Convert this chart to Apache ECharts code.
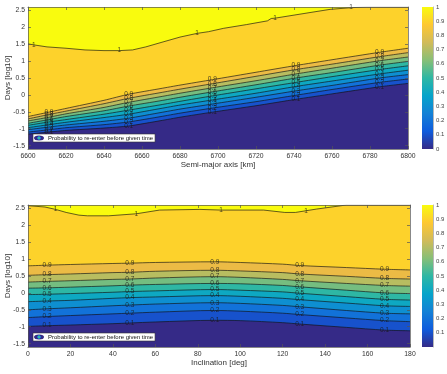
<!DOCTYPE html>
<html>
<head>
<meta charset="utf-8">
<script src="https://cdn.jsdelivr.net/npm/echarts@6/dist/echarts.min.js"></script>
<style>
html, body { margin: 0; padding: 0; background: #fff; }
#main { width: 447px; height: 374px; }
</style>
</head>
<body>
<div id="main"></div>
<script>
// top panel: contours of probability vs semi-major axis
var smaX = [6600, 6611, 6620, 6640, 6653, 6670, 6680, 6697, 6720, 6741, 6760, 6785, 6800];
var smaP10 = [-1.16, -1.10, -1.05, -0.98, -0.92, -0.76, -0.66, -0.51, -0.32, -0.13, 0.03, 0.24, 0.34];
var smaP20 = [-1.10, -1.03, -0.97, -0.88, -0.80, -0.64, -0.54, -0.39, -0.20, -0.01, 0.16, 0.37, 0.47];
var smaP30 = [-1.03, -0.95, -0.89, -0.78, -0.69, -0.52, -0.42, -0.27, -0.07, 0.12, 0.28, 0.50, 0.60];
var smaP40 = [-0.97, -0.88, -0.81, -0.67, -0.57, -0.40, -0.30, -0.15, 0.05, 0.25, 0.41, 0.62, 0.73];
var smaP50 = [-0.90, -0.80, -0.73, -0.57, -0.45, -0.29, -0.19, -0.03, 0.18, 0.37, 0.54, 0.75, 0.86];
var smaP60 = [-0.84, -0.73, -0.64, -0.47, -0.33, -0.17, -0.07, 0.09, 0.30, 0.50, 0.66, 0.88, 0.99];
var smaP70 = [-0.77, -0.66, -0.56, -0.37, -0.22, -0.05, 0.05, 0.21, 0.42, 0.62, 0.79, 1.01, 1.12];
var smaP80 = [-0.71, -0.58, -0.48, -0.26, -0.10, 0.07, 0.17, 0.33, 0.55, 0.75, 0.91, 1.13, 1.25];
var smaP90 = [-0.64, -0.51, -0.40, -0.16, 0.02, 0.19, 0.29, 0.45, 0.67, 0.87, 1.04, 1.26, 1.38];
var smaOneX = [6600, 6603, 6610, 6620, 6630, 6640, 6648, 6655, 6662, 6670, 6680, 6689, 6695, 6703, 6715, 6726, 6728, 6730, 6740, 6750, 6759, 6770, 6778, 6790, 6800];
var smaP100 = [1.51, 1.48, 1.42, 1.38, 1.33, 1.31, 1.31, 1.33, 1.42, 1.55, 1.71, 1.82, 1.87, 1.97, 2.08, 2.19, 2.26, 2.27, 2.36, 2.45, 2.53, 2.58, 2.60, 2.60, 2.60];
var smaLabelIdx = [1, 4, 7, 9, 11];
var smaOneLabelIdx = [1, 6, 11, 17, 21];

// bottom panel: contours vs inclination
var incX = [0, 9, 20, 40, 48, 60, 88, 100, 120, 128, 150, 168, 180];
var incP10 = [-0.99, -0.97, -0.95, -0.91, -0.89, -0.86, -0.81, -0.82, -0.88, -0.92, -1.02, -1.10, -1.12];
var incP20 = [-0.73, -0.70, -0.67, -0.62, -0.60, -0.57, -0.52, -0.54, -0.60, -0.64, -0.74, -0.82, -0.85];
var incP30 = [-0.50, -0.47, -0.44, -0.38, -0.36, -0.33, -0.29, -0.31, -0.37, -0.41, -0.52, -0.60, -0.62];
var incP40 = [-0.26, -0.24, -0.22, -0.16, -0.14, -0.12, -0.08, -0.10, -0.16, -0.20, -0.30, -0.38, -0.40];
var incP50 = [-0.05, -0.04, -0.02, 0.02, 0.04, 0.06, 0.10, 0.08, 0.03, -0.01, -0.11, -0.19, -0.21];
var incP60 = [0.14, 0.15, 0.17, 0.21, 0.23, 0.25, 0.28, 0.27, 0.22, 0.18, 0.08, 0.00, -0.02];
var incP70 = [0.32, 0.34, 0.36, 0.40, 0.41, 0.44, 0.48, 0.46, 0.40, 0.36, 0.28, 0.22, 0.20];
var incP80 = [0.52, 0.54, 0.56, 0.60, 0.61, 0.64, 0.67, 0.65, 0.60, 0.56, 0.49, 0.43, 0.41];
var incP90 = [0.80, 0.82, 0.84, 0.87, 0.88, 0.90, 0.92, 0.90, 0.85, 0.81, 0.75, 0.70, 0.68];
var incOneX = [0, 8, 13, 18, 24, 28, 38, 51, 62, 81, 91, 111, 121, 126, 131, 136, 150, 165, 180];
var incP100 = [2.58, 2.54, 2.47, 2.38, 2.30, 2.28, 2.28, 2.34, 2.45, 2.47, 2.45, 2.45, 2.38, 2.38, 2.43, 2.48, 2.60, 2.60, 2.60];
var incLabelIdx = [1, 4, 6, 9, 11];
var incOneLabelIdx = [2, 7, 10, 14];

var levelNames = ['0.1', '0.2', '0.3', '0.4', '0.5', '0.6', '0.7', '0.8', '0.9', '1'];
var daysTicks = [-1.5, -1, -0.5, 0, 0.5, 1, 1.5, 2, 2.5];
var cbTicksTop = [0, 0.1, 0.2, 0.3, 0.4, 0.5, 0.6, 0.7, 0.8, 0.9, 1];
var cbTicksBottom = [0.1, 0.2, 0.3, 0.4, 0.5, 0.6, 0.7, 0.8, 0.9, 1];

var LEG = 'Probability to re-enter before given time';
var FONT = 'Liberation Sans';
// parula stops and the colour of each band [k/10, (k+1)/10]
var parula = ['#352a87', '#0f5cdd', '#1481d6', '#06a4ca', '#2eb7a4', '#87bf77', '#d1bb59', '#fec832', '#f9fb0e'];
var bandColors = ['#352A87', '#1752CC', '#1272D9', '#0E8FD1', '#0EA8C2', '#2EB7A4', '#75BD80', '#B8BD60', '#ECBB45', '#FDD22B'];
var topColor = '#F9FB0E';

var myecharts = echarts.init(document.getElementById('main'));

function contour(ax, xs, ys, fill, smooth) {
    return {
        type: 'line',
        xAxisIndex: ax, yAxisIndex: ax,
        data: xs.map(function (x, i) { return [x, ys[i]]; }),
        symbol: 'none',
        smooth: smooth,
        silent: true,
        lineStyle: { color: '#111', width: 0.65 },
        areaStyle: { origin: 'start', color: fill, opacity: 1 },
        z: 2
    };
}

function labelSeries(ax, items) {
    return {
        type: 'scatter',
        xAxisIndex: ax, yAxisIndex: ax,
        data: items,
        symbolSize: 1,
        silent: true,
        itemStyle: { color: 'rgba(0,0,0,0)' },
        label: {
            show: true, position: 'inside',
            formatter: function (p) { return p.value[2]; },
            fontSize: 6.5, color: '#1a1a1a', fontFamily: FONT
        },
        z: 5
    };
}

function panel(ax, xs, lines, oneX, oneY, idx, oneIdx, smooth) {
    var s = [contour(ax, oneX, oneY, bandColors[9], false)];
    for (var k = 8; k >= 0; k--) {
        s.push(contour(ax, xs, lines[k], bandColors[k], smooth));
    }
    var labs = [];
    lines.forEach(function (ys, k) {
        idx.forEach(function (i) { labs.push([xs[i], ys[i], levelNames[k]]); });
    });
    oneIdx.forEach(function (i) { labs.push([oneX[i], oneY[i], '1']); });
    s.push(labelSeries(ax, labs));
    return s;
}

var smaLines = [smaP10, smaP20, smaP30, smaP40, smaP50, smaP60, smaP70, smaP80, smaP90];
var incLines = [incP10, incP20, incP30, incP40, incP50, incP60, incP70, incP80, incP90];

var axLine = { show: true, onZero: false, lineStyle: { color: '#555', width: 0.7 } };
var tickIn = { inside: true, length: 3, lineStyle: { color: '#555', width: 0.7 } };
var plain = function (v) { return String(v); };

function xMain(g, min, max, name) {
    return {
        type: 'value', gridIndex: g, min: min, max: max, interval: 20, position: 'bottom',
        name: name, nameLocation: 'middle', nameGap: 12, nameMoveOverlap: false,
        nameTextStyle: { fontSize: 8, color: '#333', fontFamily: FONT },
        axisLine: axLine, axisTick: tickIn,
        axisLabel: { fontSize: 6.8, color: '#333', fontFamily: FONT, margin: 4, formatter: plain },
        splitLine: { show: false }, z: 10
    };
}
function xMirror(g, min, max) {
    return {
        type: 'value', gridIndex: g, min: min, max: max, interval: 20, position: 'top',
        axisLine: axLine, axisTick: tickIn, axisLabel: { show: false }, splitLine: { show: false }, z: 10
    };
}
function yDays(g, pos, showName) {
    return {
        type: 'value', gridIndex: g, min: -1.6, max: 2.6, position: pos,
        name: showName ? 'Days [log10]' : '', nameLocation: 'middle', nameGap: 16, nameMoveOverlap: false,
        nameTextStyle: { fontSize: 8, color: '#333', fontFamily: FONT },
        axisLine: axLine,
        axisTick: { inside: true, length: 3, lineStyle: { color: '#555', width: 0.7 }, customValues: daysTicks },
        axisLabel: showName ? { fontSize: 6.8, color: '#333', fontFamily: FONT, margin: 3, customValues: daysTicks, formatter: plain } : { show: false },
        splitLine: { show: false }, z: 10
    };
}
function yBar(g, ticks) {
    return {
        type: 'value', gridIndex: g, min: 0, max: 1, position: 'right',
        axisLine: { show: true, lineStyle: { color: '#888', width: 0.6 } },
        axisTick: { inside: true, length: 2, lineStyle: { color: '#666', width: 0.6 }, customValues: ticks },
        axisLabel: { fontSize: 6, color: '#444', fontFamily: FONT, margin: 3, customValues: ticks, formatter: plain },
        splitLine: { show: false }
    };
}

var gradient = {
    type: 'linear', x: 0, y: 0, x2: 0, y2: 1,
    colorStops: parula.slice().reverse().map(function (c, i) {
        return { offset: i / (parula.length - 1), color: c };
    })
};

var legendIcon = 'path://M0,5 A10,5 0 1,0 20,5 A10,5 0 1,0 0,5 Z';
var legendItem = {
    name: LEG, icon: legendIcon,
    itemStyle: {
        color: {
            type: 'radial', x: 0.5, y: 0.5, r: 0.5,
            colorStops: [
                { offset: 0, color: '#f9fb0e' }, { offset: 0.3, color: '#2eb7a4' },
                { offset: 0.6, color: '#1481d6' }, { offset: 0.8, color: '#352a87' }, { offset: 1, color: '#352a87' }
            ]
        },
        borderWidth: 0
    }
};
function legendBox(top) {
    return {
        top: top, left: 33, orient: 'horizontal',
        data: [legendItem],
        backgroundColor: '#fff', borderColor: '#333', borderWidth: 0.6,
        padding: [1, 2, 1, 1], itemWidth: 14, itemHeight: 5, itemGap: 2,
        textStyle: { fontSize: 6, color: '#111', fontFamily: FONT, padding: [0, 0, 0, -3] },
        selectedMode: false
    };
}

var series = []
    .concat(panel(0, smaX, smaLines, smaOneX, smaP100, smaLabelIdx, smaOneLabelIdx, 0.2))
    .concat(panel(2, incX, incLines, incOneX, incP100, incLabelIdx, incOneLabelIdx, 0.3));
series.push({ type: 'line', name: LEG, xAxisIndex: 0, yAxisIndex: 0, data: [] });
series.push({ type: 'bar', xAxisIndex: 4, yAxisIndex: 4, data: [1], barWidth: '100%', silent: true, itemStyle: { color: gradient } });
series.push({ type: 'bar', xAxisIndex: 5, yAxisIndex: 5, data: [1], barWidth: '100%', silent: true, itemStyle: { color: gradient } });

var option = {
    animation: false,
    backgroundColor: '#fff',
    textStyle: { fontFamily: FONT },
    legend: [legendBox(134), legendBox(333)],
    grid: [
        { left: 28, top: 7, width: 380, height: 142, show: true, backgroundColor: topColor, borderWidth: 0, outerBoundsMode: 'none' },
        { left: 28, top: 205, width: 382, height: 142, show: true, backgroundColor: topColor, borderWidth: 0, outerBoundsMode: 'none' },
        { left: 422, top: 7, width: 11, height: 142, outerBoundsMode: 'none' },
        { left: 422, top: 205, width: 11, height: 142, outerBoundsMode: 'none' }
    ],
    xAxis: [
        xMain(0, 6600, 6800, 'Semi-major axis [km]'),
        xMirror(0, 6600, 6800),
        xMain(1, 0, 180, 'Inclination [deg]'),
        xMirror(1, 0, 180),
        { type: 'category', gridIndex: 2, data: ['c'], show: false },
        { type: 'category', gridIndex: 3, data: ['c'], show: false }
    ],
    yAxis: [
        yDays(0, 'left', true),
        yDays(0, 'right', false),
        yDays(1, 'left', true),
        yDays(1, 'right', false),
        yBar(2, cbTicksTop),
        yBar(3, cbTicksBottom)
    ],
    series: series
};
myecharts.setOption(option);
</script>
</body>
</html>
